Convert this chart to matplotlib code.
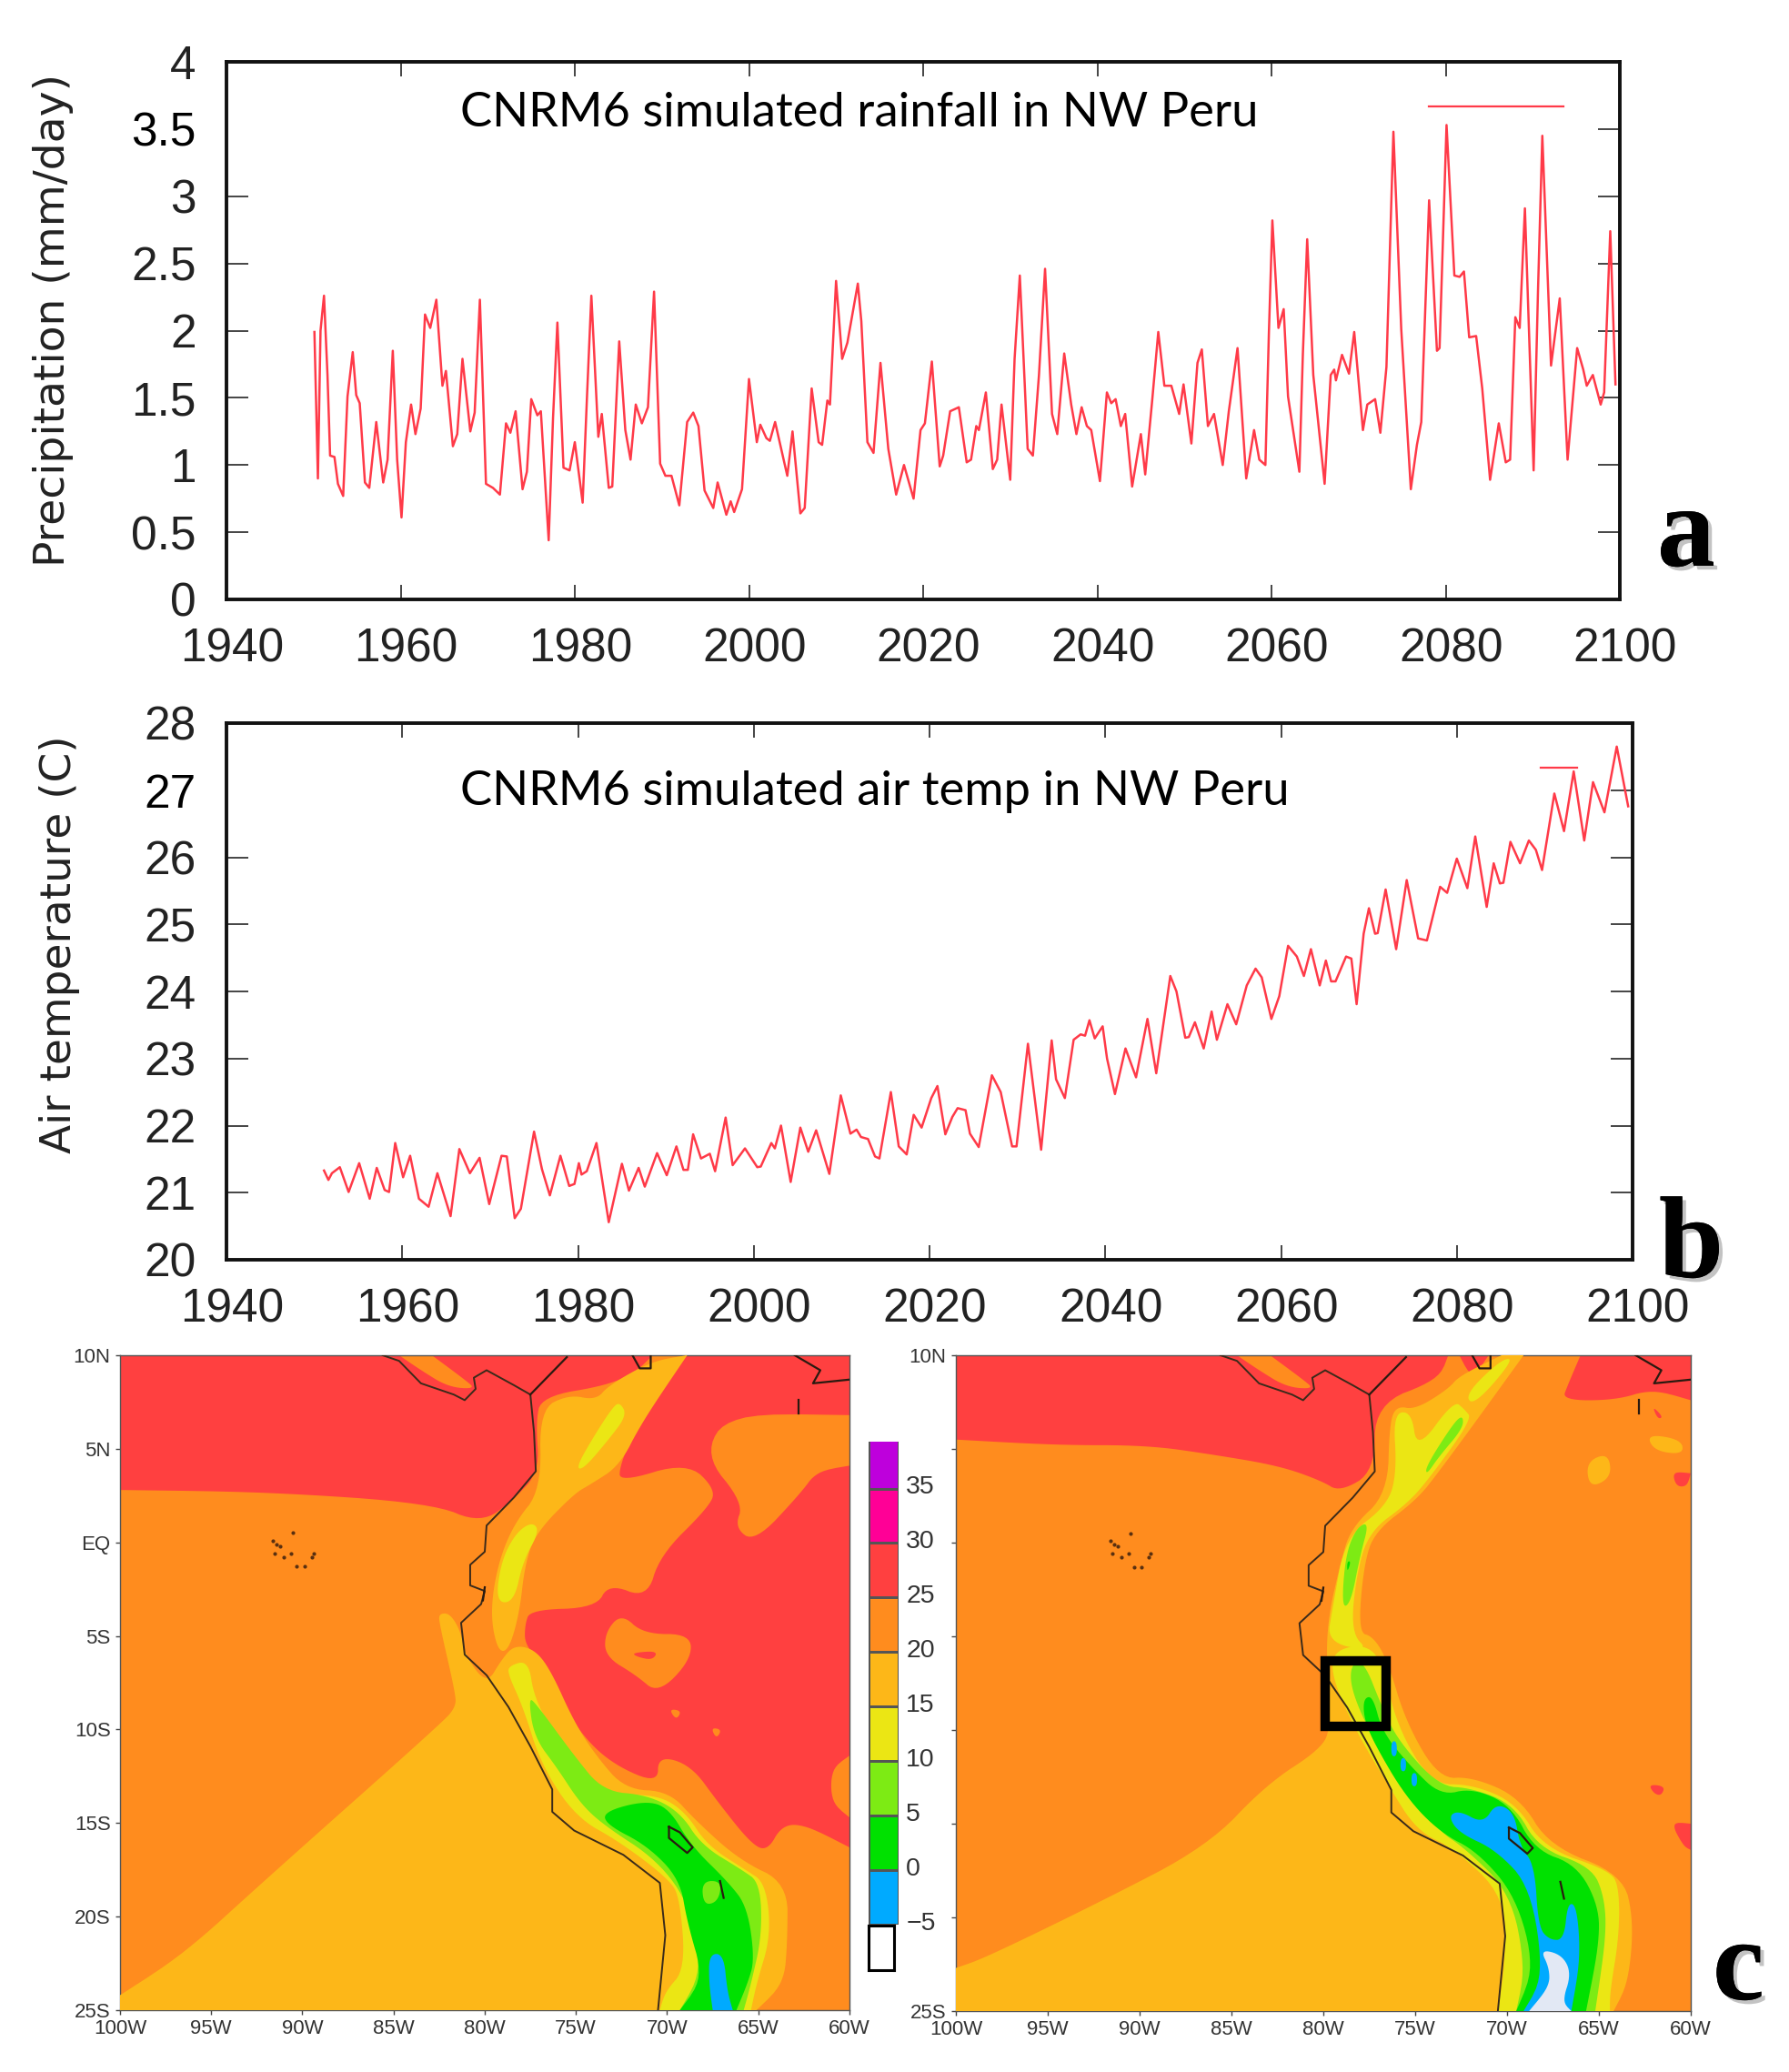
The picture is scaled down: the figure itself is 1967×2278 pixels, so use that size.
import matplotlib
matplotlib.use("Agg")
import matplotlib.pyplot as plt
import matplotlib.patheffects as pe
from matplotlib.patches import Rectangle
from matplotlib.transforms import ScaledTranslation
import numpy as np

W = 1967
H = 2278

rain_years = [1950.1,1950.5,1950.8,1951.2,1951.6,1951.9,1952.4,1952.8,1953.4,1953.9,1954.5,1954.9,1955.3,1955.9,1956.4,1957.2,1958.0,1958.5,1959.1,1959.6,1960.1,1960.6,1961.2,1961.7,1962.3,1962.8,1963.4,1964.1,1964.8,1965.2,1966.0,1966.5,1967.1,1968.0,1968.5,1969.1,1969.8,1970.6,1971.4,1972.1,1972.6,1973.2,1974.0,1974.5,1975.0,1975.7,1976.1,1977.0,1977.5,1978.0,1978.7,1979.4,1980.0,1980.9,1981.4,1981.9,1982.7,1983.1,1983.9,1984.3,1985.1,1985.8,1986.4,1987.0,1987.7,1988.4,1989.1,1989.8,1990.4,1991.1,1992.0,1992.9,1993.6,1994.2,1994.9,1995.9,1996.4,1997.4,1997.9,1998.3,1999.2,2000.0,2000.9,2001.3,2002.0,2002.4,2003.0,2003.8,2004.4,2005.0,2005.9,2006.4,2007.2,2008.0,2008.4,2009.0,2009.3,2010.0,2010.7,2011.3,2012.5,2012.9,2013.6,2014.3,2015.1,2016.0,2016.9,2017.8,2018.9,2019.7,2020.2,2021.0,2021.9,2022.3,2023.1,2024.1,2025.0,2025.5,2026.1,2026.4,2027.2,2028.0,2028.5,2029.0,2030.0,2030.5,2031.1,2032.0,2032.6,2033.3,2034.0,2034.8,2035.4,2036.2,2037.0,2037.6,2038.2,2038.8,2039.3,2040.3,2041.1,2041.6,2042.1,2042.7,2043.2,2044.0,2045.0,2045.5,2046.3,2047.0,2047.7,2048.5,2049.4,2049.9,2050.8,2051.5,2052.0,2052.7,2053.4,2054.4,2055.1,2056.1,2057.1,2058.0,2058.6,2059.3,2059.7,2060.1,2060.8,2061.4,2061.9,2063.2,2063.6,2064.1,2064.8,2066.1,2066.8,2067.2,2067.4,2068.1,2068.9,2069.5,2070.5,2071.0,2071.9,2072.5,2073.2,2074.0,2074.9,2076.0,2076.7,2077.2,2078.1,2079.0,2079.3,2080.1,2081.0,2081.6,2082.1,2082.7,2083.5,2084.2,2085.1,2086.1,2086.9,2087.4,2088.0,2088.5,2089.1,2090.1,2090.6,2091.1,2092.1,2093.1,2094.0,2095.1,2095.8,2096.2,2096.9,2097.8,2098.2,2098.9,2099.5]
rain_values = [1.99,0.90,2.0,2.26,1.67,1.07,1.06,0.86,0.77,1.51,1.84,1.52,1.46,0.87,0.83,1.32,0.87,1.04,1.85,1.04,0.61,1.17,1.45,1.23,1.42,2.12,2.02,2.23,1.59,1.70,1.14,1.23,1.79,1.25,1.39,2.23,0.86,0.83,0.78,1.31,1.24,1.40,0.82,0.95,1.49,1.37,1.40,0.44,1.35,2.06,0.98,0.96,1.17,0.72,1.51,2.26,1.21,1.38,0.83,0.84,1.92,1.26,1.04,1.45,1.31,1.43,2.29,1.01,0.92,0.92,0.70,1.32,1.39,1.29,0.81,0.68,0.87,0.63,0.73,0.65,0.82,1.64,1.17,1.30,1.20,1.18,1.32,1.09,0.92,1.25,0.64,0.68,1.57,1.17,1.15,1.48,1.45,2.37,1.79,1.91,2.35,2.07,1.17,1.09,1.76,1.12,0.78,1.0,0.75,1.26,1.31,1.77,0.99,1.07,1.40,1.43,1.02,1.04,1.29,1.26,1.54,0.97,1.04,1.45,0.89,1.79,2.41,1.12,1.07,1.67,2.46,1.38,1.23,1.83,1.45,1.23,1.43,1.29,1.26,0.88,1.54,1.46,1.49,1.29,1.38,0.84,1.23,0.93,1.48,1.99,1.59,1.59,1.38,1.60,1.16,1.76,1.86,1.29,1.38,1.0,1.40,1.87,0.90,1.26,1.04,1.0,1.98,2.82,2.02,2.16,1.51,0.95,1.82,2.68,1.67,0.86,1.67,1.71,1.63,1.82,1.68,1.99,1.26,1.45,1.49,1.24,1.73,3.48,2.01,0.82,1.15,1.32,2.97,1.85,1.87,3.53,2.41,2.40,2.44,1.95,1.96,1.57,0.89,1.31,1.02,1.04,2.10,2.02,2.91,0.96,2.29,3.45,1.74,2.24,1.04,1.87,1.71,1.59,1.67,1.45,1.54,2.74,1.60]
rain_legend_years = [2078.1, 2093.5]
rain_legend_values = [3.67, 3.67]

temp_years = [1951.1,1951.6,1952.0,1952.9,1953.9,1955.1,1956.3,1957.1,1958.0,1958.5,1959.2,1960.1,1960.9,1961.9,1963.0,1964.0,1965.5,1966.5,1967.7,1968.8,1969.9,1971.3,1971.9,1972.8,1973.5,1975.0,1975.9,1976.8,1978.0,1979.0,1979.6,1980.1,1980.4,1981.0,1982.1,1983.5,1985.0,1985.8,1986.9,1987.6,1989.0,1990.1,1991.2,1992.0,1992.5,1993.1,1994.0,1995.0,1995.6,1996.8,1997.6,1999.0,2000.4,2000.8,2002.0,2002.4,2003.1,2004.2,2005.3,2006.2,2007.1,2008.6,2009.9,2011.0,2011.7,2012.2,2013.0,2013.8,2014.3,2015.6,2016.5,2017.4,2018.2,2019.1,2020.2,2020.9,2021.8,2022.6,2023.2,2024.1,2024.6,2025.6,2027.1,2028.1,2029.4,2029.9,2031.2,2032.7,2033.9,2034.4,2035.4,2036.4,2037.2,2037.7,2038.2,2038.8,2039.7,2040.2,2041.1,2042.3,2043.5,2044.8,2045.8,2047.4,2048.1,2049.1,2049.5,2050.2,2051.2,2052.1,2052.7,2053.9,2054.9,2056.1,2057.1,2057.8,2058.9,2059.8,2060.8,2061.8,2062.6,2063.4,2064.4,2065.1,2065.7,2066.2,2067.4,2068.0,2068.6,2069.4,2070.0,2070.7,2071.0,2071.9,2073.1,2074.3,2075.6,2076.6,2078.1,2078.9,2080.0,2081.2,2082.1,2083.4,2084.2,2084.9,2085.3,2086.1,2087.2,2088.2,2089.0,2089.7,2091.1,2092.2,2093.3,2094.5,2095.5,2096.8,2098.2,2099.5]
temp_values = [21.33,21.19,21.29,21.38,21.01,21.44,20.91,21.37,21.04,21.01,21.74,21.23,21.55,20.91,20.79,21.29,20.65,21.65,21.29,21.52,20.83,21.55,21.54,20.62,20.76,21.91,21.35,20.96,21.55,21.10,21.13,21.44,21.27,21.32,21.74,20.56,21.43,21.03,21.37,21.09,21.59,21.26,21.69,21.34,21.34,21.87,21.51,21.58,21.32,22.12,21.41,21.66,21.38,21.39,21.74,21.66,22.0,21.16,21.97,21.61,21.93,21.28,22.45,21.88,21.94,21.83,21.80,21.54,21.51,22.50,21.69,21.57,22.16,21.97,22.41,22.59,21.87,22.13,22.26,22.23,21.88,21.68,22.75,22.5,21.69,21.69,23.22,21.64,23.27,22.69,22.41,23.28,23.36,23.34,23.57,23.30,23.48,23.0,22.47,23.15,22.72,23.59,22.78,24.23,24.0,23.31,23.32,23.54,23.15,23.70,23.28,23.81,23.51,24.09,24.34,24.21,23.59,23.93,24.68,24.52,24.23,24.63,24.09,24.46,24.15,24.15,24.52,24.49,23.81,24.86,25.24,24.86,24.87,25.52,24.63,25.66,24.79,24.76,25.56,25.47,25.98,25.54,26.31,25.26,25.91,25.61,25.62,26.23,25.91,26.25,26.11,25.81,26.95,26.39,27.28,26.25,27.12,26.67,27.65,26.76]
temp_legend_years = [2089.5, 2093.7]
temp_legend_values = [27.33, 27.33]

rain_ticks = [0, 0.5, 1, 1.5, 2, 2.5, 3, 3.5, 4]
rain_tick_labels = ["0", "0.5", "1", "1.5", "2", "2.5", "3", "3.5", "4"]
temp_ticks = [20, 21, 22, 23, 24, 25, 26, 27, 28]
year_ticks = [1940, 1960, 1980, 2000, 2020, 2040, 2060, 2080, 2100]

lon_ticks = [-100, -95, -90, -85, -80, -75, -70, -65, -60]
lon_labels = ["100W", "95W", "90W", "85W", "80W", "75W", "70W", "65W", "60W"]
lat_ticks = [10, 5, 0, -5, -10, -15, -20, -25]
lat_labels = ["10N", "5N", "EQ", "5S", "10S", "15S", "20S", "25S"]

level_edges = [-5, 0, 5, 10, 15, 20, 25, 30, 35, 40]
level_labels = ["\u22125", "0", "5", "10", "15", "20", "25", "30", "35"]
level_colors = ["#00aaff", "#00e100", "#7deb14", "#ebe614", "#fdb718", "#ff8c1e", "#ff4040", "#ff0096", "#be00dc"]

PURPLE, PINK, RED, ORANGE, LT_ORANGE, YELLOW, LT_GREEN, GREEN, BLUE = level_colors[::-1]
SNOW = "#e2e8f4"

# coast and small land features, shared by both maps
coast = [(-85.6,10),(-84.7,9.7),(-83.5,8.5),(-81.7,7.9),(-81.1,7.6),(-80.5,8.2),(-80.6,8.8),(-79.9,9.2),(-78.4,8.4),(-77.5,7.9),(-77.3,5.9),(-77.2,3.8),(-78.4,2.4),(-79.9,0.9),(-80,-0.5),(-80.8,-1.2),(-80.8,-2.3),(-80,-2.6),(-80.2,-3.3),(-81.3,-4.3),(-81.1,-6),(-79.9,-7.1),(-78.7,-8.8),(-77.5,-10.9),(-76.3,-13.2),(-76.3,-14.4),(-75.1,-15.4),(-72.4,-16.7),(-70.4,-18.2),(-70.1,-21),(-70.5,-25)]
coast_bits = [
    [(-77.5,7.9),(-76.6,8.8),(-75.5,9.9)],
    [(-71.9,10),(-71.5,9.3),(-70.9,9.3),(-70.9,10)],
    [(-63,10),(-61.6,9.2),(-62,8.5),(-60,8.7)],
    [(-69.9,-15.2),(-69.3,-15.5),(-68.6,-16.3),(-68.9,-16.6),(-69.9,-15.8),(-69.9,-15.2)],
    [(-67.1,-18.1),(-66.9,-19)],
    [(-62.8,7.6),(-62.8,6.9)],
    [(-80,-2.4),(-80.1,-3.1)],
]
galapagos_lon = [-91.6,-91.4,-91.5,-91.2,-91,-90.6,-90.3,-89.5,-89.4,-89.9,-90.5]
galapagos_lat = [0.1,-0.1,-0.6,-0.2,-0.8,-0.6,-1.3,-0.8,-0.6,-1.3,0.5]

# left map regions, painted in this order over an orange background
left_red = [
    [(-100,10),(-70.8,10),(-71.6,9.2),(-73.2,8.4),(-76.9,7.8),(-77.2,6.4),(-77,3.8),(-78.4,2.3),(-80.2,1),(-82.9,2.1),(-92,2.7),(-100,2.8)],
    [(-68.9,10),(-60,10),(-60,-16.3),(-62.4,-15.1),(-63.7,-15.1),(-64.5,-16.5),(-65.4,-16.1),(-67.2,-13.9),(-68.7,-11.9),(-70.5,-11.4),(-70.5,-12.9),(-72.9,-11.9),(-74.6,-10.4),(-76,-8.2),(-76.7,-6.6),(-77.8,-5.5),(-77.8,-4.4),(-77.5,-3.6),(-73.9,-3.5),(-73.2,-2.2),(-71.1,-3),(-70.4,-0.7),(-67.8,1.8),(-67.3,2.8),(-68.9,4.3),(-72.6,3.2),(-72.6,4.1),(-71.6,6.4),(-72.9,8.3),(-71.4,8.7)],
]
left_orange = [
    [(-66.6,6.9),(-60,6.8),(-60,4.1),(-61.8,3.8),(-62.7,2.6),(-65.2,0),(-66.3,0.8),(-65.8,2.1),(-68,4.7)],
    [(-72.5,-3.8),(-71.3,-4.9),(-68.7,-4.9),(-68.7,-6.3),(-70.5,-8.1),(-71.7,-7.1),(-73.4,-6.1),(-73.4,-4.8)],
    [(-60,-11.4),(-61,-12.1),(-61,-13.9),(-60,-14.7)],
    [(-67.6,-9.9),(-67,-10),(-67.3,-10.5)],
    [(-69.9,-8.9),(-69.2,-9),(-69.5,-9.5)],
    [(-84.7,10),(-82.9,10),(-81.1,8.7),(-80.5,8.2),(-82,8.3),(-83.5,9.2)],
]
left_red_small = [
    [(-71.9,-5.9),(-70.5,-5.8),(-70.8,-6.3),(-71.7,-6.1)],
    [(-65.5,-2.3),(-65.3,-2.3),(-65.3,-2.7),(-65.5,-2.7)],
]
left_lt_orange = [
    [(-100,-25),(-100,-24.2),(-96.5,-22),(-92,-18),(-82.3,-9.6),(-81.6,-8.8),(-81.6,-8.1),(-82.5,-4.3),(-82.5,-3.8),(-81.9,-3.8),(-81.3,-4.8),(-81.1,-6),(-79.9,-7.6),(-79.1,-6.3),(-78.4,-5.5),(-77.3,-5.7),(-76.4,-6.8),(-75.1,-9.6),(-73.9,-11.4),(-72.3,-13.2),(-69.9,-13.3),(-68.4,-14.9),(-66,-17),(-63.4,-18.2),(-63.4,-21.3),(-63.6,-23.6),(-65.1,-25)],
    [(-79.3,-5.8),(-79.7,-3.8),(-79.3,-1.2),(-78.4,1),(-76.9,2.8),(-77,7.1),(-75.4,7.9),(-73.9,7.6),(-73.2,8.4),(-70.8,9.7),(-68.9,10),(-71.4,6.4),(-72.6,4.1),(-74.2,3.1),(-75.1,2.6),(-77.2,0.5),(-77.8,-1.2),(-78.1,-3.8),(-78.7,-5.8)],
]
left_yellow = [
    [(-72.6,7.5),(-72.2,6.8),(-73.2,5.5),(-74.6,3.9),(-75,4),(-74,5.7),(-73,7.2)],
    [(-77.4,1.1),(-78.3,0.5),(-79.1,-1),(-79.4,-3.2),(-78.4,-3.2),(-77.9,-1),(-77,0.6)],
    [(-78.7,-6.6),(-77.6,-6.3),(-77.3,-8.3),(-76,-10.6),(-74.2,-12.9),(-73,-13.5),(-70.5,-13.5),(-69,-14.4),(-67.8,-16.2),(-65.7,-17.5),(-64.6,-18.2),(-64.3,-21),(-65.1,-23.6),(-65.4,-25),(-70.4,-25),(-70.1,-24),(-69,-22.8),(-69.3,-19),(-69.9,-18),(-72.6,-16),(-75,-14.7),(-76.9,-11.9),(-77.9,-8.8),(-78.7,-7.1)],
]
left_lt_green = [
    [(-77.6,-8.3),(-77.2,-8.6),(-75.1,-11.4),(-73.5,-13.3),(-71.1,-13.5),(-69.3,-14.4),(-68.1,-16.2),(-65.9,-17.5),(-64.9,-18.2),(-64.8,-21),(-65.4,-23.6),(-65.8,-25),(-69.3,-25),(-68.1,-23),(-68.7,-19.5),(-70.5,-17),(-73.5,-15.1),(-74.8,-13.9),(-76,-12.1),(-77.3,-10.4)],
]
left_green = [
    [(-73.5,-14.4),(-71.2,-13.8),(-69.9,-14.2),(-68.7,-16.2),(-66.6,-18.2),(-65.6,-19.5),(-65.2,-22.3),(-65.6,-23.6),(-66.2,-25),(-69.3,-25),(-68,-23.3),(-68.9,-20.3),(-69.3,-18),(-71.1,-16.2),(-73.3,-15.1)],
]
left_lt_green_top = [
    [(-68.1,-18.1),(-67,-18.1),(-67.2,-19.2),(-68,-19.4)],
]
left_blue = [
    [(-67.7,-22),(-66.9,-22),(-66.7,-24),(-66.4,-25),(-67.5,-25),(-67.7,-23.6)],
]

# right map regions
right_red = [
    [(-100,10),(-73.2,10),(-73.7,8.7),(-77.2,7.4),(-77.2,3.8),(-79.1,2.7),(-80.1,3.3),(-82.4,4.1),(-86,4.7),(-89.6,5.2),(-94.5,5.2),(-100,5.5)],
    [(-72.6,10),(-71,10),(-71.9,8.7)],
    [(-66,10),(-60,10),(-60,7.6),(-62.1,8.2),(-64.1,7.6),(-67,7.6),(-66.7,8.4)],
    [(-62.1,7.3),(-61.5,6.7),(-61.8,6.6)],
    [(-61,3.8),(-60,3.7),(-60.2,3),(-60.8,3)],
    [(-62.3,-12.9),(-61.4,-13),(-61.6,-13.5),(-62,-13.4)],
    [(-61.1,-14.9),(-60,-15),(-60,-16.4),(-60.4,-16.2)],
]
right_orange = [
    [(-84.7,10),(-82.9,10),(-81.1,8.7),(-80.5,8.2),(-82,8.3),(-83.5,9.2)],
]
right_lt_orange = [
    [(-100,-25),(-100,-22.7),(-98.5,-22.2),(-92.2,-19.2),(-86.3,-16.2),(-83.1,-12.9),(-80.1,-11),(-79.6,-9.8),(-79.8,-7.3),(-79.8,-4.3),(-79.1,-1.2),(-78.5,0.8),(-76.5,2.6),(-76.4,6.4),(-76,7.3),(-75,7.1),(-73.2,8.2),(-72.6,8.9),(-70.3,10),(-69.1,10),(-71.6,6.6),(-73.7,3.8),(-74.9,2.3),(-77.2,0.6),(-77.8,-1.2),(-78.1,-4.8),(-77.3,-5),(-76.5,-6.3),(-75.5,-9.6),(-73.7,-12.6),(-71.9,-12.5),(-69.3,-13.6),(-67.7,-16.2),(-63.7,-17.7),(-63.1,-20.2),(-63.4,-23.5),(-64.2,-25)],
    [(-62.4,5.8),(-60.5,5.5),(-60.4,4.7),(-62,4.9)],
    [(-65.7,4.3),(-64.5,4.8),(-64.3,3.5),(-65.5,2.9)],
]
right_yellow = [
    [(-79.8,-5.3),(-79.5,-3.5),(-78.8,0.3),(-76.5,2),(-76,3.8),(-76.2,6.9),(-75.2,7),(-74.9,4.9),(-72.9,7.6),(-72.3,7.1),(-71.9,6.6),(-74.1,3.6),(-75.4,2.1),(-77.5,0.6),(-78.2,-1.7),(-78.5,-4.8),(-77.5,-5.8)],
    [(-72.3,7.9),(-70.3,9.8),(-69.6,9.8),(-71.8,7.3)],
    [(-79.5,-5.8),(-77.8,-5.4),(-76.8,-6.3),(-76,-9.8),(-74.1,-12.9),(-71.9,-12.9),(-69.5,-13.9),(-68,-16.3),(-64.4,-17.5),(-63.9,-18.4),(-63.9,-21),(-64.4,-24),(-64.4,-25),(-70.5,-25),(-70.1,-22.5),(-70.1,-18.9),(-72.9,-16.3),(-74.9,-15.4),(-76.5,-12.9),(-78.2,-10.1),(-79.5,-7.3)],
]
right_lt_green = [
    [(-79,-3.5),(-78.8,-0.7),(-78.2,0.8),(-77.5,1.1),(-78,-0.7),(-78.5,-3.2)],
    [(-74.4,4.1),(-72.9,6.4),(-72.4,6.8),(-72.4,6.1),(-73.7,4.6),(-74.4,3.6)],
    [(-78.5,-6.5),(-77.8,-6.3),(-76.8,-8.8),(-75.9,-10.6),(-73.7,-13),(-71.9,-13.1),(-69.6,-14),(-68.3,-16.3),(-65.4,-17.3),(-64.7,-18.9),(-64.6,-21),(-65.2,-25),(-69.5,-25),(-69,-22.7),(-69.8,-18.7),(-72.3,-16.3),(-73.7,-15.4),(-75.7,-12.9),(-77.5,-10.1),(-78.5,-7.8)],
]
right_green = [
    [(-78.7,-1),(-78.5,-1),(-78.7,-1.6)],
    [(-77.8,-8.3),(-77.3,-8.2),(-76.8,-10.1),(-75.2,-12),(-73.6,-13.5),(-71.9,-13.1),(-69.8,-14),(-68.5,-16.4),(-66.2,-17.2),(-65,-19.4),(-65,-21.5),(-65.7,-25),(-69.5,-25),(-68.5,-22.7),(-69.5,-18.9),(-71.6,-16.5),(-73.6,-15.5),(-75.5,-13.6),(-77.3,-10.6),(-77.8,-9.3)],
]
right_blue = [
    [(-73.2,-14.6),(-72.6,-14.3),(-71.3,-15),(-70.6,-13.9),(-69.6,-14.4),(-69.3,-16.2),(-68.5,-17.2),(-68.3,-20.5),(-67.7,-21.2),(-66.9,-21.2),(-66.7,-19.2),(-66.2,-19.4),(-66,-22.2),(-66.5,-25),(-69.1,-25),(-68,-23.2),(-68.7,-18.4),(-70.6,-16.4),(-72.6,-15.5)],
    [(-76.3,-10.6),(-76,-10.6),(-76,-11.4),(-76.3,-11.4)],
    [(-75.8,-11.5),(-75.5,-11.5),(-75.5,-12.2),(-75.8,-12.2)],
    [(-75.2,-12.3),(-74.9,-12.3),(-74.9,-13),(-75.2,-13)],
]
right_snow = [
    [(-68.2,-21.7),(-67,-22),(-66.5,-23),(-67,-24.5),(-66.5,-25),(-68.8,-25),(-67.7,-23.7),(-67.7,-22.7)],
]
box_lon = [-79.9, -76.6]
box_lat = [-9.8, -6.3]


def PixelAxes(fig, left, top, right, bottom):
    return fig.add_axes([left / W, 1 - bottom / H, (right - left) / W, (bottom - top) / H])


def FigText(fig, x, y, text, **kwargs):
    fig.text(x / W, 1 - y / H, text, **kwargs)


def PlotSeries(fig, ax, years, values, legend_x, legend_y, yticks, ylabels, ylim, hidden_tick):
    ax.plot(years, values, color="#ff3a48", lw=1.8)
    ax.plot(legend_x, legend_y, color="#ff3a48", lw=1.6)
    ax.set_xlim(1940, 2100)
    ax.set_ylim(*ylim)
    ax.set_xticks(year_ticks)
    ax.set_yticks(yticks)
    ax.set_yticklabels(ylabels)
    ax.tick_params(axis="x", direction="in", length=11.5, width=1.4, color="#444444", top=True,
                   pad=22, labelsize=37, labelcolor="#222222")
    ax.tick_params(axis="y", direction="in", length=17, width=1.4, color="#444444", right=True,
                   pad=24, labelsize=37, labelcolor="#222222")
    nudge = ScaledTranslation(6 / fig.dpi, 0, fig.dpi_scale_trans)
    for label in ax.get_xticklabels():
        label.set_family("Liberation Sans")
        label.set_transform(label.get_transform() + nudge)
    for label in ax.get_yticklabels():
        label.set_family("Liberation Sans")
    for spine in ax.spines.values():
        spine.set_linewidth(2.8)
        spine.set_color("#111111")
    # the pasted-over label hides the left tick and is darker
    idx = list(yticks).index(hidden_tick)
    ax.yaxis.get_major_ticks()[idx].tick1line.set_visible(False)
    ax.get_yticklabels()[idx].set_color("black")


def SmoothRegion(region, rounds=3):
    # rounds off the drawn outline, points on the map frame stay where they are
    pts = np.array(region, dtype=float)
    for _ in range(rounds):
        out = []
        n = len(pts)
        for i in range(n):
            p = pts[i]
            on_frame = p[0] <= -100 or p[0] >= -60 or p[1] >= 10 or p[1] <= -25
            if on_frame:
                out.append(p)
            else:
                out.append(p + 0.25 * (pts[i - 1] - p))
                out.append(p + 0.25 * (pts[(i + 1) % n] - p))
        pts = np.array(out)
    return pts


def FillRegions(ax, regions, color, z):
    for region in regions:
        pts = SmoothRegion(region)
        ax.fill(pts[:, 0], pts[:, 1], color=color, lw=0, zorder=z)


def PlotMap(ax, layers, show_lat):
    ax.set_facecolor(ORANGE)
    for z, (regions, color) in enumerate(layers):
        FillRegions(ax, regions, color, z + 1)
    ax.plot([p[0] for p in coast], [p[1] for p in coast], color="#3a2a1a", lw=1.4, zorder=20)
    for bit in coast_bits:
        ax.plot([p[0] for p in bit], [p[1] for p in bit], color="#2a1a10", lw=1.6, zorder=20)
    ax.scatter(galapagos_lon, galapagos_lat, s=9, color="#5a3010", lw=0, zorder=20)
    ax.set_xlim(-100, -60)
    ax.set_ylim(-25, 10)
    ax.set_xticks(lon_ticks)
    ax.set_xticklabels(lon_labels)
    ax.set_yticks(lat_ticks)
    ax.set_yticklabels(show_lat)
    ax.tick_params(length=3.5, width=1, color="#444444", pad=4, labelsize=16, labelcolor="#333333")
    for label in ax.get_xticklabels() + ax.get_yticklabels():
        label.set_family("Liberation Sans")
    for spine in ax.spines.values():
        spine.set_linewidth(1)
        spine.set_color("#555555")


def PlotLevels(ax):
    ax.pcolormesh([0, 1], level_edges, [[i] for i in range(len(level_colors))],
                  cmap=matplotlib.colors.ListedColormap(level_colors), edgecolors="#555555", linewidth=0.8)
    ax.set_xlim(0, 1)
    ax.set_ylim(-5, 39.3)
    ax.axis("off")
    for level, label in zip(level_edges[:-1], level_labels):
        ax.annotate(label, (1, level), xytext=(6, 1), textcoords="offset points", va="center",
                    fontsize=20.5, family="Liberation Sans", color="#333333", annotation_clip=False)


fig = plt.figure(figsize=(W / 100, H / 100), dpi=100, facecolor="white")

ax_rain = PixelAxes(fig, 249, 68, 1781, 659)
PlotSeries(fig, ax_rain, rain_years, rain_values, rain_legend_years, rain_legend_values,
           rain_ticks, rain_tick_labels, (0, 4), 3.5)
ax_temp = PixelAxes(fig, 249, 795, 1795, 1385)
PlotSeries(fig, ax_temp, temp_years, temp_values, temp_legend_years, temp_legend_values,
           temp_ticks, [str(t) for t in temp_ticks], (20, 28), 27)

FigText(fig, 506, 139, "CNRM6 simulated rainfall in NW Peru", family="Lato", fontsize=37.8, color="black")
FigText(fig, 506, 885, "CNRM6 simulated air temp in NW Peru", family="Lato", fontsize=37.8, color="black")
FigText(fig, 59, 352, "Precipitation (mm/day)", family="DejaVu Sans", fontsize=34, rotation=90,
        ha="center", va="center", color="#222222")
FigText(fig, 66, 1038, "Air temperature (C)", family="DejaVu Sans", fontsize=33.8, rotation=90,
        ha="center", va="center", color="#222222")

shadow = [pe.withSimplePatchShadow(offset=(3, -3), shadow_rgbFace="#888888", alpha=0.5), pe.Normal()]
FigText(fig, 1822, 622, "a", family="Liberation Serif", weight="bold", fontsize=92, color="black", path_effects=shadow)
FigText(fig, 1824, 1404, "b", family="Liberation Serif", weight="bold", fontsize=92, color="black", path_effects=shadow)
FigText(fig, 1883, 2198, "c", family="Liberation Serif", weight="bold", fontsize=92, color="black", path_effects=shadow)

ax_left = PixelAxes(fig, 132, 1490, 934, 2210)
PlotMap(ax_left, [(left_red, RED), (left_orange, ORANGE), (left_red_small, RED), (left_lt_orange, LT_ORANGE),
                  (left_yellow, YELLOW), (left_lt_green, LT_GREEN), (left_green, GREEN),
                  (left_lt_green_top, LT_GREEN), (left_blue, BLUE)], lat_labels)

ax_right = PixelAxes(fig, 1051, 1490, 1859, 2211)
right_lat = ["10N", "", "", "", "", "", "", "25S"]
PlotMap(ax_right, [(right_red, RED), (right_orange, ORANGE), (right_lt_orange, LT_ORANGE), (right_yellow, YELLOW),
                   (right_lt_green, LT_GREEN), (right_green, GREEN), (right_blue, BLUE), (right_snow, SNOW)], right_lat)
ax_right.add_patch(Rectangle((box_lon[0], box_lat[0]), box_lon[1] - box_lon[0], box_lat[1] - box_lat[0],
                             fill=False, edgecolor="black", lw=7.5, joinstyle="miter", zorder=30))

ax_levels = PixelAxes(fig, 955, 1585, 988, 2116)
PlotLevels(ax_levels)
# empty box below the lowest colour
ax_below = PixelAxes(fig, 955, 2117, 983, 2166)
ax_below.set_xticks([])
ax_below.set_yticks([])
for spine in ax_below.spines.values():
    spine.set_linewidth(2.2)
    spine.set_color("black")

fig.savefig("out.png", dpi=100)
